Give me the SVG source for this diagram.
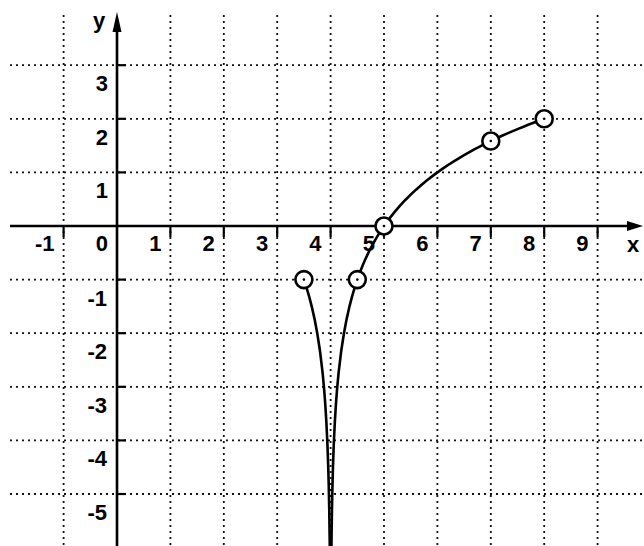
<svg xmlns="http://www.w3.org/2000/svg" width="644" height="546" viewBox="0 0 644 546">
  <style>
    .grid { stroke: #111; stroke-width: 1.8; stroke-dasharray: 2 4; fill: none; }
    .axis { stroke: #000; stroke-width: 2.6; fill: none; }
    .tick { stroke: #000; stroke-width: 2.2; }
    .curve { stroke: #000; stroke-width: 2.6; fill: none; stroke-linejoin: round; }
    .pt { fill: #fff; stroke: #000; stroke-width: 2.6; }
    .dot { fill: #000; }
    .lbl { font-family: "Liberation Sans", Arial, sans-serif; font-weight: bold; font-size: 22px; fill: #000; }
    .xl { text-anchor: end; }
    .yl { text-anchor: end; }
  </style>
  <rect width="644" height="546" fill="#fff"/>

  <g id="grid">
    <line class="grid" x1="63.6" y1="15" x2="63.6" y2="546"/>
    <line class="grid" x1="170.4" y1="15" x2="170.4" y2="546"/>
    <line class="grid" x1="223.8" y1="15" x2="223.8" y2="546"/>
    <line class="grid" x1="277.2" y1="15" x2="277.2" y2="546"/>
    <line class="grid" x1="330.6" y1="15" x2="330.6" y2="546"/>
    <line class="grid" x1="384" y1="15" x2="384" y2="546"/>
    <line class="grid" x1="437.4" y1="15" x2="437.4" y2="546"/>
    <line class="grid" x1="490.8" y1="15" x2="490.8" y2="546"/>
    <line class="grid" x1="544.2" y1="15" x2="544.2" y2="546"/>
    <line class="grid" x1="597.6" y1="15" x2="597.6" y2="546"/>

    <line class="grid" x1="10" y1="65.2" x2="644" y2="65.2"/>
    <line class="grid" x1="10" y1="118.8" x2="644" y2="118.8"/>
    <line class="grid" x1="10" y1="172.4" x2="644" y2="172.4"/>
    <line class="grid" x1="10" y1="279.6" x2="644" y2="279.6"/>
    <line class="grid" x1="10" y1="333.2" x2="644" y2="333.2"/>
    <line class="grid" x1="10" y1="386.8" x2="644" y2="386.8"/>
    <line class="grid" x1="10" y1="440.4" x2="644" y2="440.4"/>
    <line class="grid" x1="10" y1="494" x2="644" y2="494"/>
  </g>

  <g id="axes">
    <line class="axis" x1="10" y1="226" x2="630" y2="226"/>
    <polygon points="643,226 627,221 627,231" fill="#000"/>
    <line class="axis" x1="117" y1="546" x2="117" y2="28"/>
    <polygon points="117,12 112.5,32 121.5,32" fill="#000"/>
    <g id="ticks">
      <line class="tick" x1="63.6" y1="226" x2="63.6" y2="237"/>
      <line class="tick" x1="170.4" y1="226" x2="170.4" y2="237"/>
      <line class="tick" x1="223.8" y1="226" x2="223.8" y2="237"/>
      <line class="tick" x1="277.2" y1="226" x2="277.2" y2="237"/>
      <line class="tick" x1="330.6" y1="226" x2="330.6" y2="237"/>
      <line class="tick" x1="384" y1="226" x2="384" y2="237"/>
      <line class="tick" x1="437.4" y1="226" x2="437.4" y2="237"/>
      <line class="tick" x1="490.8" y1="226" x2="490.8" y2="237"/>
      <line class="tick" x1="544.2" y1="226" x2="544.2" y2="237"/>
      <line class="tick" x1="597.6" y1="226" x2="597.6" y2="237"/>
      <line class="tick" x1="117" y1="65.2" x2="126" y2="65.2"/>
      <line class="tick" x1="117" y1="118.8" x2="126" y2="118.8"/>
      <line class="tick" x1="117" y1="172.4" x2="126" y2="172.4"/>
      <line class="tick" x1="117" y1="279.6" x2="126" y2="279.6"/>
      <line class="tick" x1="117" y1="333.2" x2="126" y2="333.2"/>
      <line class="tick" x1="117" y1="386.8" x2="126" y2="386.8"/>
      <line class="tick" x1="117" y1="440.4" x2="126" y2="440.4"/>
      <line class="tick" x1="117" y1="494" x2="126" y2="494"/>
    </g>
  </g>

  <g id="labels">
    <text class="lbl" x="99" y="28" text-anchor="middle">y</text>
    <text class="lbl" x="633" y="252" text-anchor="middle">x</text>

    <text class="lbl xl" x="54.6" y="250.5">-1</text>
    <text class="lbl xl" x="108" y="250.5">0</text>
    <text class="lbl xl" x="161.4" y="250.5">1</text>
    <text class="lbl xl" x="214.8" y="250.5">2</text>
    <text class="lbl xl" x="268.2" y="250.5">3</text>
    <text class="lbl xl" x="321.6" y="250.5">4</text>
    <text class="lbl xl" x="375" y="250.5">5</text>
    <text class="lbl xl" x="428.4" y="250.5">6</text>
    <text class="lbl xl" x="481.8" y="250.5">7</text>
    <text class="lbl xl" x="535.2" y="250.5">8</text>
    <text class="lbl xl" x="588.6" y="250.5">9</text>

    <text class="lbl yl" x="108" y="91">3</text>
    <text class="lbl yl" x="108" y="144.5">2</text>
    <text class="lbl yl" x="108" y="198">1</text>
    <text class="lbl yl" x="107" y="305.5">-1</text>
    <text class="lbl yl" x="107" y="359">-2</text>
    <text class="lbl yl" x="107" y="412.5">-3</text>
    <text class="lbl yl" x="107" y="466">-4</text>
    <text class="lbl yl" x="107" y="519.5">-5</text>
  </g>

  <g id="curve">
    <polyline class="curve" points="303.9,279.6 306.57,287.75 309.24,296.85 311.91,307.18 314.58,319.1 317.25,333.2 319.92,350.45 322.59,372.7 324.19,389.96 325.26,404.05 326.33,421.31 327.4,443.56 328.2,465.81 328.73,485.24 329.27,511.25 329.64,536.66 329.75,546"/>
    <polyline class="curve" points="331.45,546 331.56,536.66 331.94,511.25 332.47,485.24 333,465.81 333.8,443.56 334.87,421.31 335.94,404.05 337.01,389.96 338.61,372.7 341.28,350.45 343.95,333.2 346.62,319.1 349.29,307.18 351.96,296.85 354.63,287.75 357.3,279.6 359.97,272.23 362.64,265.5 365.31,259.31 367.98,253.58 370.65,248.24 373.32,243.25 375.99,238.57 378.66,234.15 381.33,229.97 384,226 389.34,218.63 394.68,211.9 400.02,205.71 405.36,199.98 410.7,194.64 416.04,189.65 421.38,184.97 426.72,180.55 432.06,176.37 437.4,172.4 442.74,168.63 448.08,165.03 453.42,161.59 458.76,158.3 464.1,155.15 469.44,152.11 474.78,149.19 480.12,146.38 485.46,143.67 490.8,141.04 496.14,138.51 501.48,136.05 506.82,133.67 512.16,131.37 517.5,129.12 522.84,126.95 528.18,124.83 533.52,122.77 538.86,120.76 544.2,118.8"/>
  </g>

  <g id="points">
    <g id="p1"><circle class="pt" cx="303.9" cy="279.6" r="8.5"/><circle class="dot" cx="303.9" cy="279.6" r="1.3"/></g>
    <g id="p2"><circle class="pt" cx="357.3" cy="279.6" r="8.5"/><circle class="dot" cx="357.3" cy="279.6" r="1.3"/></g>
    <g id="p3"><circle class="pt" cx="384" cy="226" r="8.5"/><circle class="dot" cx="384" cy="226" r="1.3"/></g>
    <g id="p4"><circle class="pt" cx="490.8" cy="141.04" r="8.5"/><circle class="dot" cx="490.8" cy="141.04" r="1.3"/></g>
    <g id="p5"><circle class="pt" cx="544.2" cy="118.8" r="8.5"/><circle class="dot" cx="544.2" cy="118.8" r="1.3"/></g>
  </g>
</svg>
